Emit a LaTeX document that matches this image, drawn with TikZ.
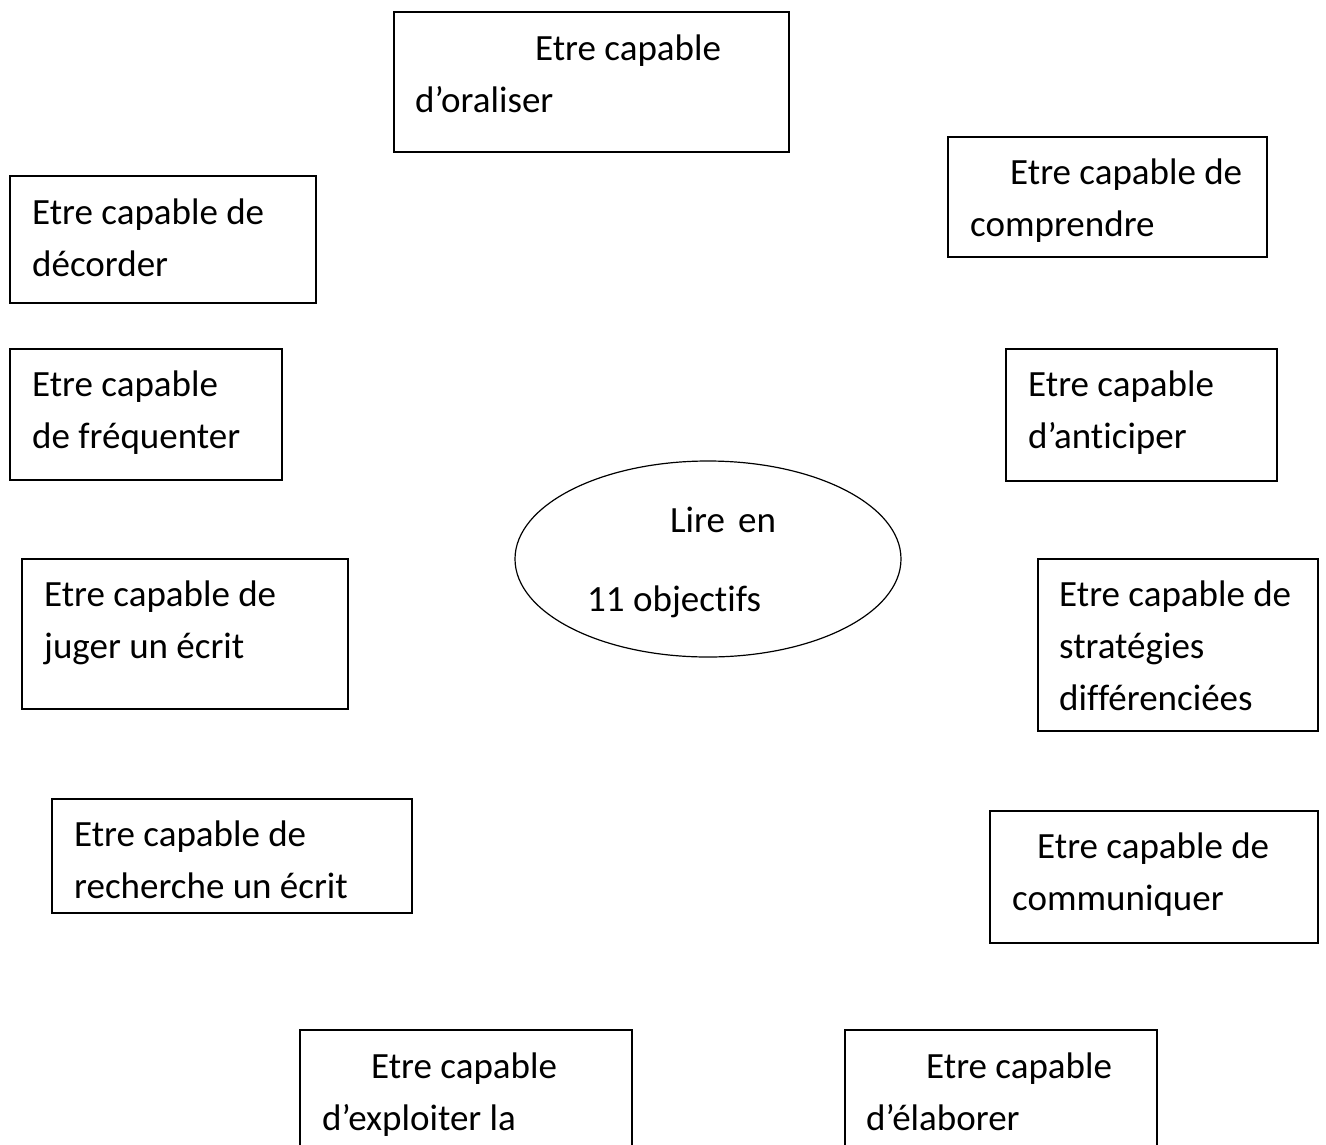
\documentclass[tikz,border=0pt]{standalone}
\usepackage{fontspec}
\setmainfont{Carlito}[Ligatures={NoCommon,NoContextual}]
\usetikzlibrary{fit,shapes.geometric}
\begin{document}
\begin{tikzpicture}[x=1pt,y=-1pt,
  box/.style={draw,line width=1.4pt,inner sep=0pt,rectangle},
  txt/.style={anchor=base west,inner sep=0pt,font=\fontsize{37}{44}\selectfont}]
\useasboundingbox (0,0) rectangle (1326,1144);
\clip (0,0) rectangle (1326,1144);
\fill[white] (0,0) rectangle (1326,1144);
% boxes
\node[box,fit={(394,12) (789,152)}] (b1) {};
\node[box,fit={(948,137) (1267,257)}] (b2) {};
\node[box,fit={(10,176) (316,303)}] (b3) {};
\node[box,fit={(10,349) (282,480)}] (b4) {};
\node[box,fit={(1006,349) (1277,481)}] (b5) {};
\node[box,fit={(22,559) (348,709)}] (b7) {};
\node[box,fit={(1038,559) (1318,731)}] (b8) {};
\node[box,fit={(52,799) (412,913)}] (b9) {};
\node[box,fit={(990,811) (1318,943)}] (b10) {};
\node[box,fit={(300,1030) (632,1200)}] (b11) {};
\node[box,fit={(845,1030) (1157,1200)}] (b12) {};
\node[draw,ellipse,line width=1.2pt,minimum width=386pt,minimum height=196pt,inner sep=0pt] (e) at (708,559) {};
% texts
\node[txt] (t1a) at (535,60) {Etre capable};
\node[txt] (t1b) at (415,112) {d’oraliser};
\node[txt] (t2a) at (1010,184) {Etre capable de};
\node[txt] (t2b) at (970,236) {comprendre};
\node[txt] (t3a) at (32,224) {Etre capable de};
\node[txt] (t3b) at (32,276) {décorder};
\node[txt] (t4a) at (32,396) {Etre capable};
\node[txt] (t4b) at (32,448) {de fréquenter};
\node[txt] (t5a) at (1028,396) {Etre capable};
\node[txt] (t5b) at (1028,448) {d’anticiper};
\node[txt] (tea) at (670,532) {Lire};
\node[txt] (teb) at (738,532) {en};
\node[txt] (tec) at (587,611) {11 objectifs};
\node[txt] (t7a) at (44,606) {Etre capable de};
\node[txt] (t7b) at (44,658) {juger un écrit};
\node[txt] (t8a) at (1059,606) {Etre capable de};
\node[txt] (t8b) at (1059,658) {stratégies};
\node[txt] (t8c) at (1059,710) {différenciées};
\node[txt] (t9a) at (74,846) {Etre capable de};
\node[txt] (t9b) at (74,898) {recherche un écrit};
\node[txt] (t10a) at (1037,858) {Etre capable de};
\node[txt] (t10b) at (1012,910) {communiquer};
\node[txt] (t11a) at (371,1078) {Etre capable};
\node[txt] (t11b) at (322,1130) {d’exploiter la};
\node[txt] (t12a) at (926,1078) {Etre capable};
\node[txt] (t12b) at (866,1130) {d’élaborer};
\end{tikzpicture}
\end{document}
